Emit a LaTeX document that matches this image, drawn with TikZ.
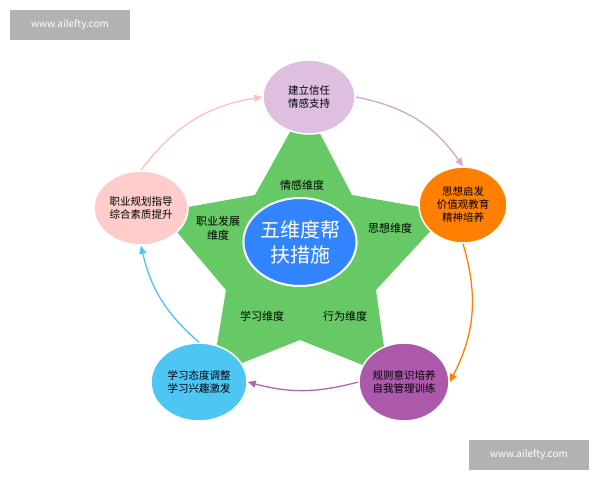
\documentclass[tikz,border=0pt]{standalone}
\usepackage{fontspec}
\setmainfont{Noto Sans CJK SC}
\usetikzlibrary{arrows.meta,shapes.geometric}
\begin{document}
\begin{tikzpicture}[x=1pt,y=-1pt,
  circ/.style={ellipse, draw=white, line width=1.5pt, align=center, inner sep=0pt, font=\fontsize{10.5}{13}\selectfont},
  lbl/.style={font=\fontsize{11}{14}\selectfont, align=center},
  arc/.style={line width=1.3pt, -{Triangle[length=8pt,width=7pt]}},
  wm/.style={fill=gray!60, text=white, font=\fontsize{10}{12}\selectfont, minimum width=120, minimum height=30}]
\useasboundingbox (0,0) rectangle (600,480);
\fill[white] (0,0) rectangle (600,480);
% star
\fill[green!65!black!60]
 (305,105) -- (352,195) -- (448,212) -- (376,290) -- (388,375) -- (300,340)
 -- (212,375) -- (226,290) -- (160,212) -- (255,195) -- cycle;
% circles
\node[circ, fill=violet!25, minimum width=92, minimum height=74] (t) at (309,97) {建立信任\\情感支持};
\node[circ, fill=orange, minimum width=88, minimum height=76] (r) at (463,205) {思想启发\\价值观教育\\精神培养};
\node[circ, fill=violet!65, minimum width=90, minimum height=78] (br) at (404,382) {规则意识培养\\自我管理训练};
\node[circ, fill=cyan!70, minimum width=96, minimum height=78] (bl) at (199,382) {学习态度调整\\学习兴趣激发};
\node[circ, fill=pink!80, minimum width=94, minimum height=74] (l) at (141,208) {职业规划指导\\综合素质提升};
\node[ellipse, draw=white, line width=2pt, fill=blue!60!cyan!80, minimum width=106, minimum height=88, inner sep=0pt, text=white, align=center, font=\fontsize{20}{25}\selectfont] (c) at (300,242) {五维度帮\\扶措施};
% labels
\node[lbl] (d1) at (302,185) {情感维度};
\node[lbl] (d2) at (390,228) {思想维度};
\node[lbl] (d3) at (345,316) {行为维度};
\node[lbl] (d4) at (262,316) {学习维度};
\node[lbl] (d5) at (218,228) {职业发展\\维度};
% arcs
\draw[arc, violet!35] (t.east) to[bend left=22] (r.north);
\draw[arc, orange] (r.south) to[bend left=22] (br.east);
\draw[arc, violet!60] (br.west) to[bend left=15] (bl.east);
\draw[arc, cyan!70] (bl.north) to[bend left=18] (l.south);
\draw[arc, pink] (l.north) to[bend left=22] (t.west);
% watermarks
\node[wm] (w1) at (70,25) {www.ailefty.com};
\node[wm] (w2) at (529,455) {www.ailefty.com};
\end{tikzpicture}
\end{document}
